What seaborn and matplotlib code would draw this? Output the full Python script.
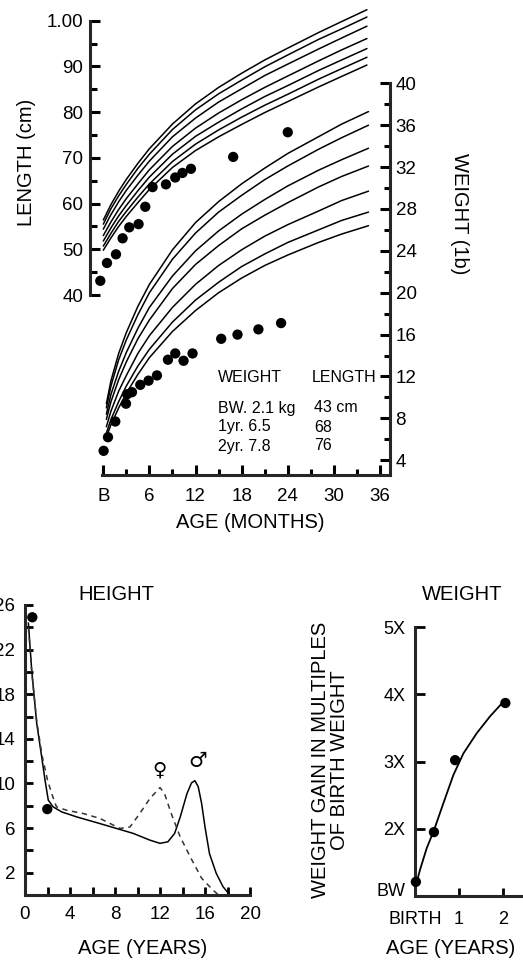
import numpy as np
import pandas as pd
import matplotlib
matplotlib.use("Agg")
import matplotlib.pyplot as plt
import seaborn as sns

# ---------------- data: top chart (months) ----------------
LEN_MONTHS = [0, 1, 2, 3, 4.5, 6, 9, 12, 15, 18, 21, 24, 28, 31, 34.3]
LEN_P1 = [56.4, 59.8, 62.7, 65.3, 68.8, 72.0, 77.4, 81.8, 85.4, 88.5, 91.4, 94.0, 97.4, 99.8, 102.4]
LEN_P2 = [55.5, 58.9, 61.7, 64.2, 67.7, 70.8, 76.2, 80.5, 84.0, 87.0, 89.9, 92.5, 95.9, 98.2, 100.8]
LEN_P3 = [54.4, 57.6, 60.4, 62.9, 66.2, 69.3, 74.6, 78.7, 82.2, 85.1, 88.0, 90.5, 93.8, 96.2, 98.8]
LEN_P4 = [53.0, 56.0, 58.7, 61.1, 64.3, 67.4, 72.5, 76.5, 79.8, 82.7, 85.4, 87.9, 91.2, 93.6, 96.1]
LEN_P5 = [51.8, 54.7, 57.3, 59.6, 62.8, 65.8, 70.8, 74.7, 77.8, 80.7, 83.4, 85.8, 89.1, 91.4, 93.9]
LEN_P6 = [50.7, 53.5, 56.1, 58.3, 61.4, 64.3, 69.2, 73.0, 76.1, 78.9, 81.5, 83.9, 87.2, 89.5, 92.0]
LEN_P7 = [49.8, 52.5, 55.0, 57.2, 60.2, 63.1, 67.9, 71.6, 74.6, 77.3, 79.9, 82.3, 85.5, 87.8, 90.3]

WT_MONTHS = [0.4, 1, 2, 3, 4.5, 6, 9, 12, 15, 18, 21, 24, 28, 31, 34.5]
WT_P1 = [9.4, 11.6, 14.2, 16.2, 18.7, 20.8, 24.1, 26.7, 28.7, 30.4, 31.9, 33.3, 34.9, 36.1, 37.3]
WT_P2 = [9.0, 11.1, 13.6, 15.5, 17.9, 20.0, 23.2, 25.7, 27.7, 29.3, 30.8, 32.1, 33.7, 34.8, 36.0]
WT_P3 = [8.4, 10.3, 12.5, 14.3, 16.6, 18.6, 21.6, 24.0, 25.9, 27.5, 28.9, 30.2, 31.7, 32.7, 33.8]
WT_P4 = [7.9, 9.6, 11.7, 13.4, 15.6, 17.4, 20.4, 22.7, 24.5, 26.1, 27.4, 28.6, 30.1, 31.1, 32.1]
WT_P5 = [7.2, 8.7, 10.6, 12.1, 14.2, 15.9, 18.6, 20.8, 22.6, 24.1, 25.4, 26.5, 27.8, 28.8, 29.7]
WT_P6 = [6.6, 7.9, 9.6, 11.1, 13.0, 14.6, 17.2, 19.3, 21.0, 22.5, 23.7, 24.8, 26.0, 26.9, 27.7]
WT_P7 = [6.2, 7.4, 9.0, 10.4, 12.2, 13.8, 16.3, 18.3, 20.0, 21.4, 22.6, 23.6, 24.8, 25.6, 26.4]

LEN_DOT_MONTH = [-0.39, 0.48, 1.65, 2.51, 3.38, 4.59, 5.46, 6.41, 8.15, 9.36, 10.3, 11.4, 16.9, 24.0]
LEN_DOT_CM = [43.1, 47.0, 48.9, 52.4, 54.8, 55.5, 59.3, 63.6, 64.2, 65.7, 66.7, 67.6, 70.2, 75.6]

WT_DOT_MONTH = [0.04, 0.61, 1.56, 2.95, 3.1, 3.73, 4.81, 5.89, 6.98, 8.41, 9.36, 10.44, 11.61,
                15.34, 17.46, 20.18, 23.13]
WT_DOT_LB = [4.9, 6.2, 7.7, 9.4, 10.3, 10.5, 11.2, 11.6, 12.1, 13.6, 14.2, 13.5, 14.2,
             15.6, 16.0, 16.5, 17.1]

MONTH_TICKS = [0, 6, 12, 18, 24, 30, 36]
MONTH_LABELS = ["B", "6", "12", "18", "24", "30", "36"]
LEN_TICKS = [40, 50, 60, 70, 80, 90, 100]
LEN_LABELS = ["40", "50", "60", "70", "80", "90", "1.00"]
WT_TICKS = [4, 8, 12, 16, 20, 24, 28, 32, 36, 40]

TABLE_ROWS = [("WEIGHT", "LENGTH"), ("BW. 2.1 kg", "43 cm"), ("1yr. 6.5", "68"), ("2yr. 7.8", "76")]

# ---------------- data: height velocity (years) ----------------
HT_M_YR = [0.3, 0.6, 1.04, 1.48, 1.78, 2.07, 2.5, 3.26, 4.6, 6.67, 9.63, 11.1, 12.0, 12.7,
           13.3, 13.8, 14.4, 14.8, 15.1, 15.4, 15.7, 16.0, 16.4, 17.0, 17.6, 18.2]
HT_M_V = [24.4, 20.1, 15.4, 12.4, 10.3, 8.5, 7.9, 7.45, 7.0, 6.4, 5.52, 4.92, 4.63, 4.77,
          5.52, 7.0, 9.1, 10.05, 10.25, 9.7, 8.2, 6.1, 3.7, 1.94, 0.75, 0.0]
HT_F_YR = [0.3, 0.6, 1.04, 1.5, 2.0, 2.37, 2.8, 3.7, 5.2, 6.67, 8.44, 9.33, 10.2, 11.1,
           12.0, 12.4, 13.0, 13.8, 14.7, 15.7, 16.7, 17.2]
HT_F_V = [24.0, 20.0, 15.6, 12.6, 10.3, 9.1, 7.9, 7.6, 7.3, 6.86, 5.97, 6.1, 7.3, 8.65,
          9.63, 9.1, 7.3, 5.2, 3.4, 1.5, 0.45, 0.0]
HT_DOT_YR = [0.65, 1.98]
HT_DOT_V = [24.9, 7.7]
HT_YTICKS = [2, 6, 10, 14, 18, 22, 26]
HT_XTICKS = [0, 4, 8, 12, 16, 20]

# ---------------- data: weight multiples ----------------
WG_YR = [0.0, 0.114, 0.265, 0.432, 0.644, 0.871, 1.098, 1.40, 1.70, 2.05]
WG_V = [1.11, 1.39, 1.71, 1.98, 2.38, 2.80, 3.12, 3.42, 3.67, 3.92]
WG_DOT_YR = [0.02, 0.43, 0.91, 2.05]
WG_DOT_V = [1.21, 1.95, 3.02, 3.87]
WG_YTICKS = [1, 2, 3, 4, 5]
WG_YLABELS = ["BW", "2X", "3X", "4X", "5X"]
WG_XTICKS = [0, 1, 2]
WG_XLABELS = ["BIRTH", "1", "2"]

# ---------------- style ----------------
sns.set_theme(style="white")
plt.rcParams["font.family"] = ["Liberation Sans", "DejaVu Sans"]
plt.rcParams["axes.linewidth"] = 2.2
plt.rcParams["text.color"] = "black"
plt.rcParams["axes.labelcolor"] = "black"
plt.rcParams["xtick.color"] = "black"
plt.rcParams["ytick.color"] = "black"

W, H = 523, 960
fig = plt.figure(figsize=(W / 100, H / 100), dpi=100)


def rect(l, t, r, b):
    return [l / W, 1 - b / H, (r - l) / W, (b - t) / H]


def long_df(xs, curves, yname):
    rows = []
    for i, c in enumerate(curves):
        for x, v in zip(xs, c):
            rows.append({"x": x, yname: v, "curve": i})
    return pd.DataFrame(rows)


TICK_FS = 13.5
LAB_FS = 14.5
LW = 1.1
DOT_S = 55

# ================= TOP CHART =================
ax = fig.add_axes(rect(90, 5, 390, 475))
ax.set_xlim(-1.73, 37.30)
ax.set_ylim(2.59, 47.48)
ax2 = ax.twinx()
ax2.set_ylim(0.63, 103.43)
ax.patch.set_visible(False)

wdf = long_df(WT_MONTHS, [WT_P1, WT_P2, WT_P3, WT_P4, WT_P5, WT_P6, WT_P7], "weight")
sns.lineplot(data=wdf, x="x", y="weight", units="curve", estimator=None, sort=False,
             color="black", lw=LW, ax=ax, legend=False)
sns.scatterplot(x=WT_DOT_MONTH, y=WT_DOT_LB, ax=ax, color="black", s=DOT_S,
                edgecolor="none", zorder=5, clip_on=False)

ldf = long_df(LEN_MONTHS, [LEN_P1, LEN_P2, LEN_P3, LEN_P4, LEN_P5, LEN_P6, LEN_P7], "length")
sns.lineplot(data=ldf, x="x", y="length", units="curve", estimator=None, sort=False,
             color="black", lw=LW, ax=ax2, legend=False)
sns.scatterplot(x=LEN_DOT_MONTH, y=LEN_DOT_CM, ax=ax2, color="black", s=DOT_S,
                edgecolor="none", zorder=5, clip_on=False)

# spines
for s in ["left", "top"]:
    ax.spines[s].set_visible(False)
ax.spines["right"].set_visible(True)
ax.spines["bottom"].set_visible(True)
ax.spines["right"].set_bounds(2.59, 40)
ax.spines["bottom"].set_bounds(-0.15, 37.30)
for s in ["right", "top", "bottom"]:
    ax2.spines[s].set_visible(False)
ax2.spines["left"].set_visible(True)
ax2.spines["left"].set_bounds(40, 100)

# x ticks
ax.set_xticks(MONTH_TICKS)
ax.set_xticklabels(MONTH_LABELS)
ax.set_xticks([3, 9, 15, 21, 27, 33], minor=True)
ax.tick_params(axis="x", which="both", direction="in", bottom=True, top=False,
               width=2.2, pad=9, labelsize=TICK_FS)
ax.tick_params(axis="x", which="major", length=7.5)
ax.tick_params(axis="x", which="minor", length=4.5)

# weight (right) ticks
ax.yaxis.tick_right()
ax.set_yticks(WT_TICKS)
ax.set_yticklabels([str(t) for t in WT_TICKS])
ax.set_yticks([6, 10, 14, 18, 22, 26, 30, 34, 38], minor=True)
ax.tick_params(axis="y", which="both", direction="in", left=False, right=True,
               labelleft=False, labelright=True, width=2.2, pad=4, labelsize=TICK_FS)
ax.tick_params(axis="y", which="major", length=7.5)
ax.tick_params(axis="y", which="minor", length=4.5)

# length (left) ticks
ax2.yaxis.tick_left()
ax2.set_yticks(LEN_TICKS)
ax2.set_yticklabels(LEN_LABELS)
ax2.set_yticks([45, 55, 65, 75, 85, 95], minor=True)
ax2.tick_params(axis="y", which="both", direction="in", left=True, right=False,
                labelleft=True, labelright=False, width=2.2, pad=5, labelsize=TICK_FS)
ax2.tick_params(axis="y", which="major", length=7.5)
ax2.tick_params(axis="y", which="minor", length=5)

# labels
ax.set_xlabel("AGE (MONTHS)", fontsize=LAB_FS)
ax.xaxis.label.set_va("center")
ax.xaxis.set_label_coords((250 - 90) / 300, (475 - 523) / 470)

ax.yaxis.set_label_position("right")
ax.set_ylabel("WEIGHT (1b)", fontsize=LAB_FS, rotation=-90)
ax.yaxis.label.set_va("center")
ax.yaxis.set_label_coords((459 - 90) / 300, (475 - 214) / 470)

ax2.yaxis.set_label_position("left")
ax2.set_ylabel("LENGTH (cm)", fontsize=LAB_FS)
ax2.yaxis.label.set_va("center")
ax2.yaxis.set_label_coords((26 - 90) / 300, (475 - 162) / 470)

# table
row_y = [378, 408, 427, 446]
for (a, b), y in zip(TABLE_ROWS, row_y):
    fig.text(218 / W, 1 - y / H, a, fontsize=11.5, ha="left", va="center")
    fig.text((312 if y == 378 else 314) / W, 1 - y / H, b, fontsize=11.5, ha="left", va="center")

# ================= HEIGHT VELOCITY =================
ax3 = fig.add_axes(rect(25, 605, 250, 895))
ax3.set_xlim(0, 20)
ax3.set_ylim(0, 26)
ax3.patch.set_visible(False)
sns.lineplot(x=HT_M_YR, y=HT_M_V, ax=ax3, color="black", lw=1.1, sort=False,
             estimator=None, legend=False)
sns.lineplot(x=HT_F_YR, y=HT_F_V, ax=ax3, color="#333333", lw=1.1, sort=False,
             estimator=None, legend=False, linestyle=(0, (3.5, 3)))
sns.scatterplot(x=HT_DOT_YR, y=HT_DOT_V, ax=ax3, color="black", s=DOT_S,
                edgecolor="none", zorder=5, clip_on=False)
for s in ["top", "right"]:
    ax3.spines[s].set_visible(False)
ax3.set_yticks(HT_YTICKS)
ax3.set_yticklabels([str(t) for t in HT_YTICKS])
ax3.set_yticks([4, 8, 12, 16, 20, 24], minor=True)
ax3.set_xticks(HT_XTICKS)
ax3.set_xticklabels([str(t) for t in HT_XTICKS])
ax3.set_xticks([2, 6, 10, 14, 18], minor=True)
ax3.tick_params(axis="both", which="both", direction="in", length=6, width=2.0,
                labelsize=TICK_FS)
ax3.tick_params(axis="y", which="both", left=True, right=False, pad=7)
ax3.tick_params(axis="x", which="both", bottom=True, top=False, pad=8)
ax3.set_xlabel("AGE (YEARS)", fontsize=LAB_FS)
ax3.xaxis.label.set_va("center")
ax3.xaxis.set_label_coords((142.5 - 25) / 225, (895 - 948) / 290)
ax3.set_ylabel("")
ax3.text((116 - 25) / 225, (895 - 595) / 290, "HEIGHT", transform=ax3.transAxes,
         fontsize=LAB_FS, ha="center", va="center")
ax3.text(11.96, 11.2, "\u2640", fontsize=14, ha="center", va="center",
         family=["DejaVu Sans"])
ax3.text(15.35, 12.0, "\u2642", fontsize=15, ha="center", va="center",
         family=["DejaVu Sans"])

# ================= WEIGHT MULTIPLES =================
ax4 = fig.add_axes(rect(415, 627, 523, 896))
ax4.set_xlim(0, 2.45)
ax4.set_ylim(1, 5)
ax4.patch.set_visible(False)
sns.lineplot(x=WG_YR, y=WG_V, ax=ax4, color="black", lw=1.3, sort=False,
             estimator=None, legend=False)
sns.scatterplot(x=WG_DOT_YR, y=WG_DOT_V, ax=ax4, color="black", s=DOT_S,
                edgecolor="none", zorder=5, clip_on=False)
for s in ["top", "right"]:
    ax4.spines[s].set_visible(False)
ax4.set_yticks(WG_YTICKS)
ax4.set_yticklabels(WG_YLABELS)
ax4.set_xticks(WG_XTICKS)
ax4.set_xticklabels(WG_XLABELS)
ax4.tick_params(axis="both", which="both", direction="in", width=2.0, labelsize=13)
ax4.tick_params(axis="y", length=7.5, left=True, right=False, pad=7)
ax4.tick_params(axis="x", length=6, bottom=True, top=False, pad=11)
ax4.get_yticklabels()[0].set_va("baseline")
ax4.set_xlabel("AGE (YEARS)", fontsize=LAB_FS)
ax4.xaxis.label.set_va("center")
ax4.xaxis.set_label_coords((451 - 415) / 108, (896 - 948) / 269)
ax4.set_ylabel("WEIGHT GAIN IN MULTIPLES\nOF BIRTH WEIGHT", fontsize=LAB_FS,
               multialignment="center", linespacing=1.0)
ax4.yaxis.label.set_va("center")
ax4.yaxis.set_label_coords((330 - 415) / 108, (896 - 760) / 269)
ax4.text((462 - 415) / 108, (896 - 595) / 269, "WEIGHT", transform=ax4.transAxes,
         fontsize=LAB_FS, ha="center", va="center")

fig.savefig("out.png", dpi=100)
